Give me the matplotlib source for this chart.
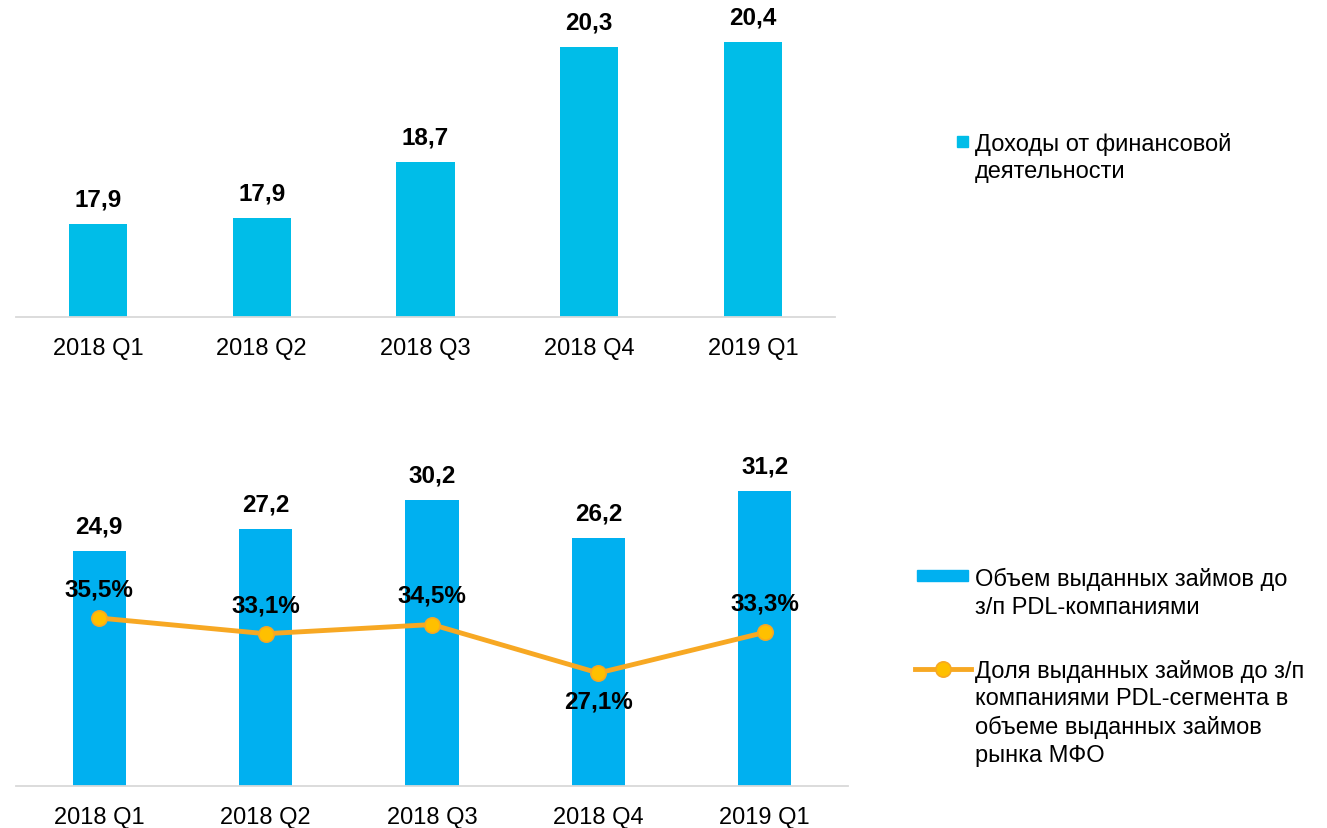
import matplotlib
matplotlib.use('Agg')
import matplotlib.pyplot as plt
from matplotlib.patches import Rectangle
from matplotlib.lines import Line2D

# данные
quarters = ['2018 Q1', '2018 Q2', '2018 Q3', '2018 Q4', '2019 Q1']
income = [17.86, 17.94, 18.72, 20.33, 20.40]
loans = [24.9, 27.2, 30.2, 26.2, 31.2]
share = [35.5, 33.1, 34.5, 27.1, 33.3]

income_label = 'Доходы от финансовой\nдеятельности'
loans_label = 'Объем выданных займов до\nз/п PDL-компаниями'
share_label = ('Доля выданных займов до з/п\nкомпаниями PDL-сегмента в\n'
               'объеме выданных займов\nрынка МФО')

plt.rcParams['font.family'] = ['Liberation Sans', 'DejaVu Sans']

W, H = 1327, 829
fig = plt.figure(figsize=(W / 100, H / 100), dpi=100)


def fx(px):
    return px / W


def fy(px):
    return 1 - px / H


def fmt(v):
    return f'{v:.1f}'.replace('.', ',')


def style(ax):
    for s in ['top', 'right', 'left']:
        ax.spines[s].set_visible(False)
    ax.spines['bottom'].set_color('#D9D9D9')
    ax.spines['bottom'].set_linewidth(1.3)
    ax.set_yticks([])
    ax.set_xticks(range(len(quarters)))
    ax.set_xticklabels(quarters)
    ax.tick_params(axis='x', length=0, pad=14.5, labelsize=17)
    ax.set_xlim(-0.5, len(quarters) - 0.5)


x = list(range(len(quarters)))
LABEL_FS = 17.5
LEG_FS = 17
LEG_LS = 1.32

# верхний график: доходы
ax1 = fig.add_axes([fx(16), fy(318), fx(835 - 16), (318 - 20) / H])
ax1.bar(x, income, width=0.355, color='#00BDE8')
ax1.set_ylim(16.56, 20.72)
style(ax1)
for xi, v in zip(x, income):
    ax1.annotate(fmt(v), (xi, v), xytext=(0, 18), textcoords='offset points',
                 ha='center', va='center', fontsize=LABEL_FS, fontweight='bold')

# нижний график: объем займов + доля
ax2 = fig.add_axes([fx(16), fy(787), fx(848 - 16), (787 - 440) / H])
ax2.bar(x, loans, width=0.32, color='#00B0F0')
ax2.set_ylim(0, 36.7)
style(ax2)
for xi, v in zip(x, loans):
    ax2.annotate(fmt(v), (xi, v), xytext=(0, 18), textcoords='offset points',
                 ha='center', va='center', fontsize=LABEL_FS, fontweight='bold')

ax3 = ax2.twinx()
ax3.set_ylim(9.84, 62.84)
for s in ax3.spines.values():
    s.set_visible(False)
ax3.set_yticks([])
ax3.plot(x, share, color='#F7A823', lw=3.5, marker='o', ms=11,
         mfc='#FFC000', mec='#F7A823', mew=1.2, zorder=3)
low = min(share)
for xi, v in zip(x, share):
    off = -20 if v == low else 21
    ax3.annotate(fmt(v) + '%', (xi, v), xytext=(0, off), textcoords='offset points',
                 ha='center', va='center', fontsize=LABEL_FS, fontweight='bold', zorder=5)

# легенды (текст выровнен по верху первой строки)
fig.patches.append(Rectangle((fx(957), fy(148)), fx(11), 11 / H,
                             transform=fig.transFigure, color='#00BDE8'))
fig.text(fx(975), fy(133), income_label, fontsize=LEG_FS, va='top', linespacing=LEG_LS)

fig.patches.append(Rectangle((fx(917), fy(582)), fx(51), 11 / H,
                             transform=fig.transFigure, color='#00B0F0'))
fig.text(fx(975), fy(568), loans_label, fontsize=LEG_FS, va='top', linespacing=LEG_LS)

fig.lines.append(Line2D([fx(915), fx(971)], [fy(670), fy(670)], transform=fig.transFigure,
                        color='#F7A823', lw=3.5))
fig.lines.append(Line2D([fx(943)], [fy(670)], transform=fig.transFigure, marker='o', ms=11,
                        mfc='#FFC000', mec='#F7A823', mew=1.2, ls='none'))
fig.text(fx(975), fy(660), share_label, fontsize=LEG_FS, va='top', linespacing=LEG_LS)

fig.savefig('out.png', dpi=100)
